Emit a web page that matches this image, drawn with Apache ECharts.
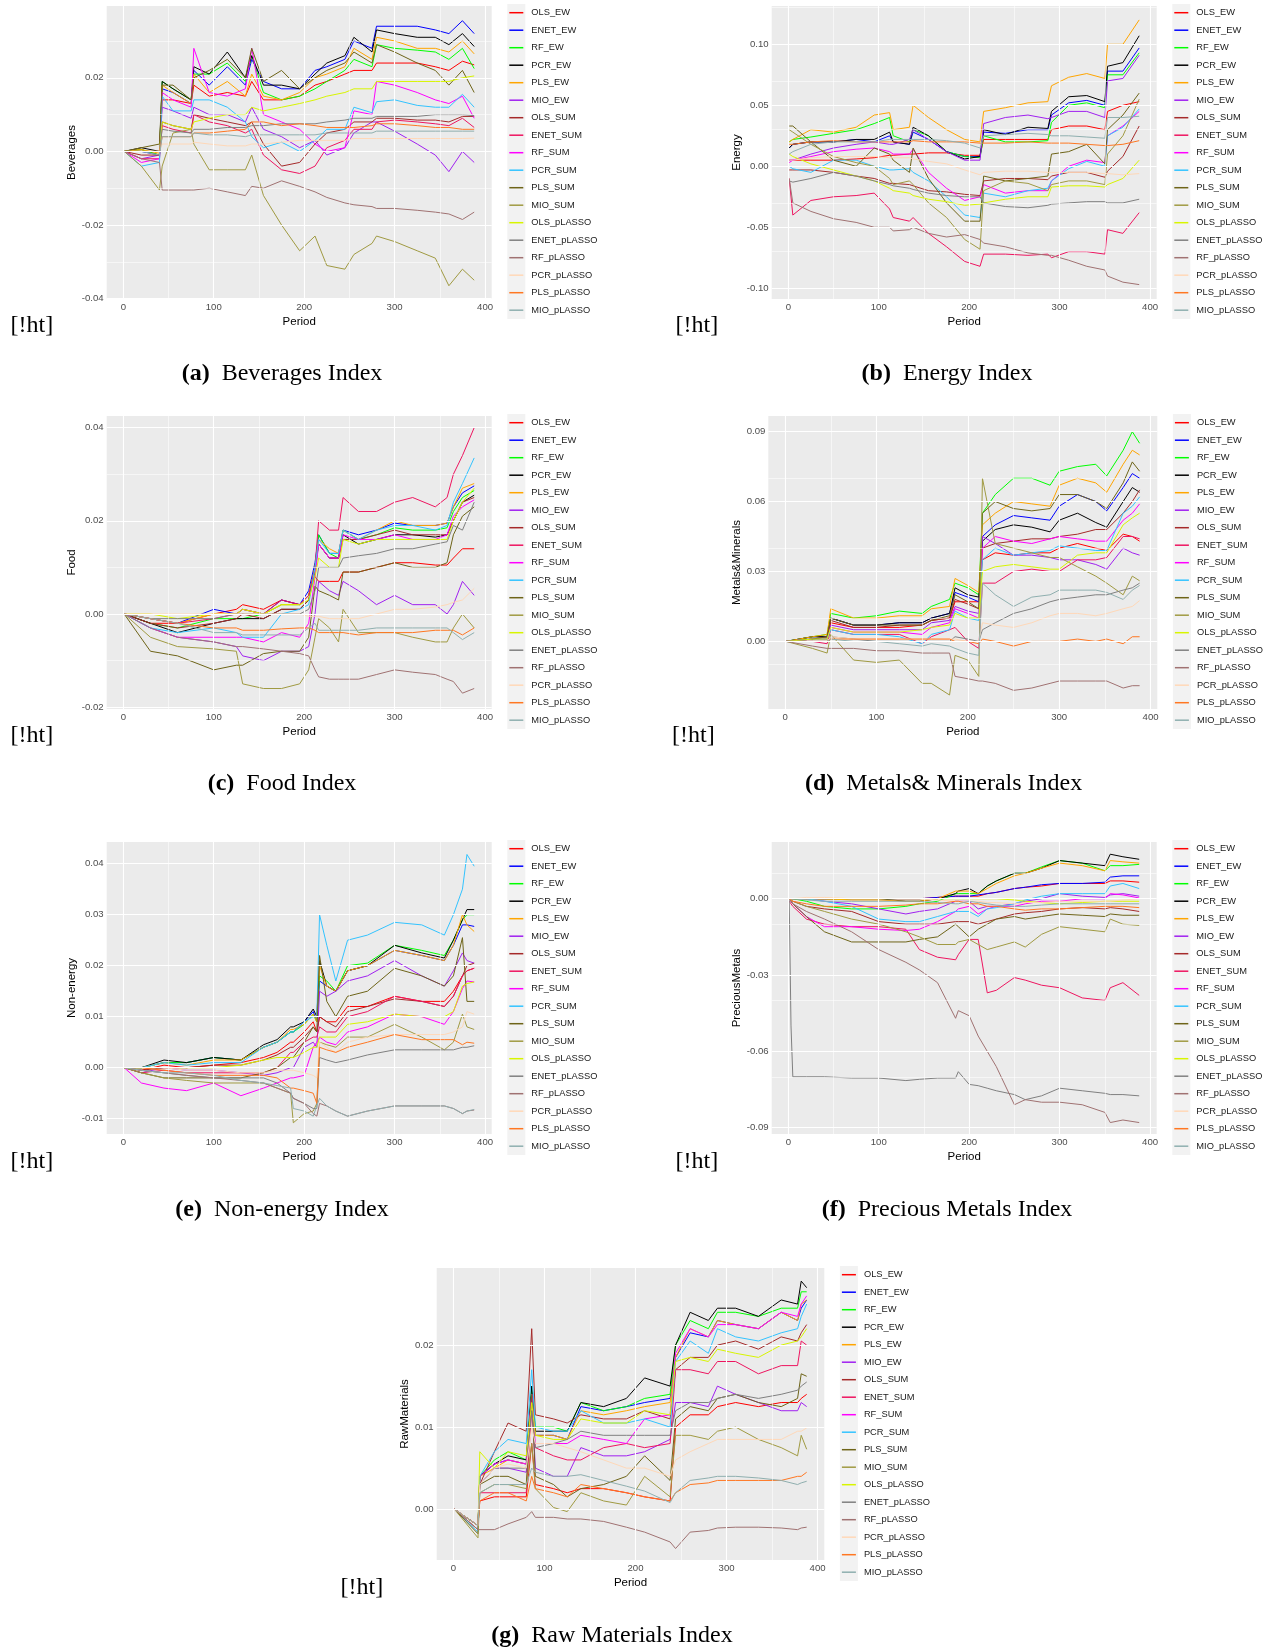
<!DOCTYPE html>
<html>
<head>
<meta charset="utf-8">
<title>Index forecast comparison</title>
<script src="https://cdn.jsdelivr.net/npm/echarts@6/dist/echarts.min.js"></script>
<style>
  html, body { margin: 0; padding: 0; background: #fff; }
  #chart { width: 1273px; height: 1650px; }
</style>
</head>
<body>
<div id="chart"></div>
<script>
// legend order = drawing order
var models = ['OLS_EW', 'ENET_EW', 'RF_EW', 'PCR_EW', 'PLS_EW', 'MIO_EW', 'OLS_SUM', 'ENET_SUM', 'RF_SUM', 'PCR_SUM', 'PLS_SUM', 'MIO_SUM', 'OLS_pLASSO', 'ENET_pLASSO', 'RF_pLASSO', 'PCR_pLASSO', 'PLS_pLASSO', 'MIO_pLASSO'];
var modelColors = ['#ff0000', '#0000ff', '#00ff00', '#000000', '#ffa500', '#a020f0', '#a52a2a', '#ee1560', '#ff00ff', '#33c3ff', '#6e6418', '#a09a42', '#d8f500', '#808080', '#a07272', '#ffd8b8', '#ff7722', '#8fafaf'];

var periodTicks = [0, 100, 200, 300, 400];
var periodMinor = [50, 150, 250, 350];

// (a) Beverages
var bevTicks = [-0.04, -0.02, 0, 0.02];
var bevMinor = [-0.03, -0.01, 0.01, 0.03];
var bevPeriod = [1, 20, 40, 43, 55, 75, 78, 95, 115, 135, 142, 155, 175, 195, 212, 225, 245, 255, 275, 280, 300, 325, 345, 360, 375, 388];
var bevValues = [
  [0, 0.0005, -0.001, 0.014, 0.014, 0.013, 0.018, 0.015, 0.016, 0.015, 0.019, 0.014, 0.014, 0.015, 0.018, 0.019, 0.021, 0.022, 0.022, 0.024, 0.024, 0.024, 0.023, 0.022, 0.0245, 0.0235],
  [0, 0, -0.001, 0.017, 0.016, 0.013, 0.022, 0.018, 0.023, 0.018, 0.025, 0.019, 0.017, 0.017, 0.022, 0.023, 0.025, 0.03, 0.028, 0.034, 0.034, 0.034, 0.033, 0.032, 0.0355, 0.032],
  [0, 0.0005, -0.001, 0.019, 0.017, 0.014, 0.021, 0.021, 0.024, 0.019, 0.026, 0.016, 0.014, 0.015, 0.017, 0.019, 0.022, 0.025, 0.023, 0.029, 0.028, 0.0275, 0.027, 0.025, 0.028, 0.0225],
  [0, 0.001, 0, 0.019, 0.017, 0.014, 0.023, 0.021, 0.027, 0.02, 0.026, 0.018, 0.018, 0.017, 0.021, 0.024, 0.026, 0.031, 0.027, 0.033, 0.032, 0.031, 0.031, 0.029, 0.032, 0.0285],
  [0, 0.0005, -0.0005, 0.018, 0.016, 0.013, 0.021, 0.016, 0.019, 0.015, 0.021, 0.015, 0.014, 0.016, 0.02, 0.021, 0.023, 0.028, 0.025, 0.031, 0.03, 0.028, 0.028, 0.027, 0.03, 0.0265],
  [0, -0.002, -0.001, 0.012, 0.011, 0.009, 0.012, 0.01, 0.01, 0.008, 0.012, 0.006, 0.004, 0.001, 0.003, -0.001, 0.001, 0.005, 0.008, 0.008, 0.0055, 0.002, -0.001, -0.0055, 0, -0.003],
  [0, -0.001, -0.001, 0.008, 0.007, 0.006, 0.01, 0.009, 0.008, 0.007, 0.008, 0.002, -0.004, -0.003, 0.002, 0.005, 0.006, 0.008, 0.008, 0.009, 0.009, 0.0085, 0.0085, 0.008, 0.0095, 0.0095],
  [0, -0.002, -0.002, 0.007, 0.006, 0.005, 0.01, 0.008, 0.007, 0.005, 0.006, -0.001, -0.005, -0.006, -0.004, 0.001, 0.003, 0.006, 0.006, 0.008, 0.0085, 0.008, 0.0075, 0.007, 0.009, 0.0065],
  [0, -0.003, -0.002, 0.016, 0.014, 0.012, 0.028, 0.016, 0.015, 0.017, 0.028, 0.01, 0.008, 0.006, 0.002, 0, 0.001, 0.011, 0.01, 0.019, 0.018, 0.016, 0.014, 0.013, 0.015, 0.009],
  [0, -0.004, -0.003, 0.015, 0.011, 0.011, 0.014, 0.014, 0.012, 0.008, 0.004, 0.001, 0.0025, 0, 0.003, 0.006, 0.006, 0.012, 0.0105, 0.0135, 0.014, 0.0125, 0.012, 0.012, 0.0155, 0.012],
  [0, 0.001, 0.002, 0.018, 0.018, 0.014, 0.02, 0.022, 0.025, 0.02, 0.028, 0.019, 0.022, 0.017, 0.02, 0.022, 0.024, 0.027, 0.024, 0.029, 0.027, 0.024, 0.022, 0.018, 0.022, 0.016],
  [0, -0.004, -0.0105, -0.004, 0.005, 0.006, 0.002, -0.005, -0.005, -0.005, -0.001, -0.012, -0.02, -0.027, -0.023, -0.031, -0.032, -0.028, -0.025, -0.023, -0.0245, -0.027, -0.029, -0.0365, -0.032, -0.035],
  [0, 0, 0, 0.008, 0.007, 0.006, 0.008, 0.009, 0.01, 0.01, 0.012, 0.011, 0.012, 0.013, 0.014, 0.015, 0.016, 0.017, 0.017, 0.019, 0.019, 0.019, 0.019, 0.019, 0.02, 0.0205],
  [0, 0, 0, 0.006, 0.0055, 0.005, 0.006, 0.006, 0.0065, 0.0065, 0.007, 0.007, 0.0075, 0.0075, 0.0075, 0.008, 0.0085, 0.009, 0.009, 0.0095, 0.0095, 0.0095, 0.01, 0.01, 0.01, 0.0097],
  [0, -0.002, -0.003, -0.0105, -0.0105, -0.0105, -0.0105, -0.01, -0.011, -0.012, -0.0095, -0.01, -0.008, -0.0095, -0.011, -0.0125, -0.014, -0.0145, -0.015, -0.0155, -0.0155, -0.016, -0.0165, -0.017, -0.0185, -0.0165],
  [0, 0, 0, 0.002, 0.002, 0.002, 0.0025, 0.002, 0.0015, 0.0015, 0.002, 0.002, 0.0025, 0.003, 0.003, 0.003, 0.003, 0.0035, 0.0035, 0.0035, 0.0035, 0.0035, 0.0035, 0.0035, 0.0035, 0.0036],
  [0, 0, 0, 0.004, 0.004, 0.004, 0.005, 0.005, 0.0055, 0.006, 0.008, 0.008, 0.007, 0.0075, 0.007, 0.0065, 0.0065, 0.0065, 0.007, 0.0075, 0.0075, 0.007, 0.0065, 0.0065, 0.006, 0.006],
  [0, 0, -0.001, 0.004, 0.004, 0.004, 0.005, 0.0045, 0.0045, 0.004, 0.0045, 0.0045, 0.0045, 0.0045, 0.0045, 0.005, 0.005, 0.005, 0.005, 0.0055, 0.0055, 0.0055, 0.0055, 0.0055, 0.0055, 0.0055]
];

// (b) Energy
var enTicks = [-0.1, -0.05, 0, 0.05, 0.1];
var enMinor = [-0.075, -0.025, 0.025, 0.075, 0.125];
var enPeriod = [1, 5, 25, 50, 75, 95, 112, 116, 134, 138, 155, 175, 195, 212, 216, 240, 265, 287, 291, 310, 330, 350, 353, 370, 388];
var enValues = [
  [0.005, 0.005, 0.005, 0.005, 0.006, 0.007, 0.009, 0.009, 0.01, 0.01, 0.011, 0.011, 0.009, 0.009, 0.022, 0.022, 0.022, 0.022, 0.03, 0.033, 0.033, 0.03, 0.045, 0.05, 0.053],
  [0.015, 0.018, 0.02, 0.02, 0.022, 0.02, 0.025, 0.02, 0.018, 0.028, 0.022, 0.012, 0.008, 0.008, 0.028, 0.027, 0.03, 0.03, 0.042, 0.052, 0.054, 0.05, 0.078, 0.078, 0.097],
  [0.02, 0.022, 0.024, 0.027, 0.03, 0.035, 0.04, 0.025, 0.02, 0.03, 0.025, 0.012, 0.008, 0.007, 0.025, 0.02, 0.02, 0.021, 0.036, 0.05, 0.052, 0.048, 0.075, 0.075, 0.093],
  [0.015, 0.018, 0.02, 0.02, 0.022, 0.022, 0.028, 0.02, 0.018, 0.032, 0.025, 0.012, 0.006, 0.008, 0.03, 0.026, 0.032, 0.031, 0.045, 0.057, 0.058, 0.053, 0.082, 0.085, 0.107],
  [0.02, 0.022, 0.03, 0.028, 0.032, 0.042, 0.044, 0.03, 0.032, 0.05, 0.04, 0.03, 0.022, 0.02, 0.045, 0.048, 0.052, 0.053, 0.066, 0.073, 0.076, 0.072, 0.1, 0.1, 0.12],
  [0.005, 0.005, 0.01, 0.015, 0.018, 0.02, 0.018, 0.018, 0.022, 0.03, 0.022, 0.012, 0.005, 0.005, 0.035, 0.04, 0.042, 0.039, 0.04, 0.045, 0.045, 0.04, 0.07, 0.072, 0.091],
  [-0.003, -0.003, -0.003, -0.005, -0.008, -0.01, -0.014, -0.014, -0.015, -0.016, -0.02, -0.021, -0.023, -0.024, -0.012, -0.01, -0.01, -0.011, -0.008, -0.005, -0.005, -0.009, -0.004, 0.008, 0.033],
  [-0.01, -0.04, -0.028, -0.025, -0.024, -0.022, -0.035, -0.042, -0.045, -0.042, -0.055, -0.066, -0.078, -0.082, -0.072, -0.072, -0.073, -0.072, -0.075, -0.07, -0.07, -0.072, -0.052, -0.055, -0.038],
  [0.003, 0.005, 0.008, 0.012, 0.014, 0.015, 0.012, 0.01, 0.01, 0.014, -0.005, -0.018, -0.028, -0.025, -0.015, -0.022, -0.02, -0.02, -0.012, 0, 0.005, 0.003, 0.025, 0.033, 0.045],
  [0, -0.002, -0.005, 0.005, 0.005, 0, -0.003, -0.003, -0.002, -0.005, -0.012, -0.025, -0.04, -0.042, -0.022, -0.025, -0.02, -0.018, -0.012, -0.002, 0.004, 0, 0.025, 0.032, 0.047],
  [0.033, 0.033, 0.02, 0.005, 0, 0.015, 0.01, 0.005, -0.005, 0.015, -0.01, -0.03, -0.045, -0.045, -0.008, -0.012, -0.01, -0.008, 0.01, 0.012, 0.018, 0.002, 0.03, 0.042, 0.06],
  [0.03, 0.028, 0.018, 0.008, 0.003, 0, -0.01, -0.015, -0.012, -0.015, -0.03, -0.042, -0.06, -0.068, -0.02, -0.012, -0.014, -0.02, -0.015, -0.012, -0.012, -0.015, 0.01, 0.025, 0.055],
  [0.01, 0.008, 0.002, -0.003, -0.008, -0.012, -0.018, -0.02, -0.022, -0.024, -0.027, -0.029, -0.032, -0.031, -0.03, -0.027, -0.025, -0.025, -0.017, -0.016, -0.016, -0.017, -0.015, -0.01, 0.005],
  [-0.012, -0.013, -0.01, -0.005, -0.008, -0.012, -0.015, -0.016, -0.018, -0.019, -0.022, -0.024, -0.025, -0.025, -0.03, -0.033, -0.034, -0.032, -0.031, -0.03, -0.029, -0.029, -0.03, -0.03, -0.027],
  [-0.01, -0.03, -0.037, -0.043, -0.046, -0.05, -0.05, -0.053, -0.052, -0.05, -0.055, -0.058, -0.056, -0.06, -0.063, -0.066, -0.071, -0.073, -0.073, -0.077, -0.082, -0.085, -0.09, -0.095, -0.097],
  [0.005, 0.005, 0.007, 0.008, 0.008, 0.008, 0.007, 0.007, 0.007, 0.006, 0.004, 0.002, -0.003, -0.007, -0.005, -0.004, -0.004, -0.005, -0.005, -0.005, -0.005, -0.006, -0.006, -0.007, -0.006],
  [0.018, 0.018, 0.02, 0.021, 0.02, 0.02, 0.02, 0.02, 0.02, 0.021, 0.02, 0.02, 0.02, 0.019, 0.019, 0.019, 0.02, 0.019, 0.019, 0.019, 0.018, 0.017, 0.017, 0.018, 0.021],
  [0.01, 0.012, 0.018, 0.02, 0.02, 0.02, 0.022, 0.022, 0.022, 0.022, 0.022, 0.021, 0.019, 0.015, 0.025, 0.026, 0.027, 0.026, 0.025, 0.025, 0.024, 0.023, 0.04, 0.04, 0.041]
];

// (c) Food
var foodTicks = [-0.02, 0, 0.02, 0.04];
var foodMinor = [-0.01, 0.01, 0.03];
var foodPeriod = [1, 30, 60, 100, 125, 132, 155, 175, 195, 205, 212, 216, 228, 238, 243, 260, 280, 300, 320, 345, 358, 365, 375, 388];
var foodValues = [
  [0, -0.002, -0.002, 0, 0.001, 0.002, 0.001, 0.003, 0.002, 0.004, 0.008, 0.007, 0.007, 0.007, 0.009, 0.009, 0.01, 0.011, 0.011, 0.0105, 0.0105, 0.012, 0.014, 0.014],
  [0, -0.001, -0.002, 0.001, 0, 0.001, 0, 0.003, 0.002, 0.005, 0.011, 0.017, 0.013, 0.013, 0.018, 0.017, 0.018, 0.0195, 0.019, 0.019, 0.0195, 0.023, 0.026, 0.0275],
  [0, -0.002, -0.003, -0.001, -0.001, -0.001, 0, 0.002, 0.002, 0.004, 0.01, 0.017, 0.013, 0.012, 0.018, 0.016, 0.017, 0.0185, 0.018, 0.018, 0.0185, 0.022, 0.025, 0.0265],
  [0, -0.002, -0.004, -0.002, -0.001, -0.001, -0.001, 0.001, 0.001, 0.003, 0.01, 0.015, 0.012, 0.012, 0.017, 0.015, 0.016, 0.017, 0.017, 0.0165, 0.017, 0.02, 0.024, 0.0255],
  [0, -0.001, -0.002, 0, 0, 0.001, 0, 0.002, 0.002, 0.004, 0.01, 0.016, 0.014, 0.013, 0.018, 0.016, 0.018, 0.02, 0.019, 0.019, 0.0195, 0.023, 0.027, 0.028],
  [0, -0.003, -0.005, -0.006, -0.007, -0.009, -0.01, -0.008, -0.008, -0.007, 0, 0.007, 0.005, 0.004, 0.007, 0.005, 0.002, 0.004, 0.002, 0.002, 0, 0.002, 0.007, 0.004],
  [0, -0.002, -0.003, -0.002, -0.001, 0, -0.001, 0.001, 0.001, 0.003, 0.009, 0.015, 0.012, 0.012, 0.016, 0.016, 0.017, 0.018, 0.017, 0.017, 0.017, 0.02, 0.024, 0.025],
  [0, -0.001, -0.002, -0.001, 0, 0.001, 0, 0.003, 0.002, 0.004, 0.01, 0.02, 0.018, 0.018, 0.025, 0.022, 0.022, 0.024, 0.025, 0.023, 0.025, 0.03, 0.034, 0.04],
  [0, -0.003, -0.005, -0.005, -0.005, -0.005, -0.006, -0.004, -0.005, -0.002, 0.008, 0.015, 0.012, 0.012, 0.017, 0.016, 0.016, 0.017, 0.016, 0.016, 0.017, 0.021, 0.023, 0.0245],
  [0, -0.003, -0.004, -0.003, -0.004, -0.005, -0.005, 0, 0.001, 0.002, 0.01, 0.016, 0.013, 0.013, 0.018, 0.016, 0.018, 0.019, 0.019, 0.018, 0.019, 0.024, 0.028, 0.0335],
  [0, -0.008, -0.009, -0.012, -0.011, -0.011, -0.0085, -0.008, -0.008, -0.005, 0.006, 0.005, 0.004, 0.003, 0.009, 0.009, 0.01, 0.011, 0.01, 0.01, 0.011, 0.017, 0.021, 0.023],
  [0, -0.005, -0.007, -0.0075, -0.008, -0.015, -0.016, -0.016, -0.015, -0.012, -0.005, -0.001, -0.003, -0.006, 0.001, -0.004, -0.004, -0.004, -0.005, -0.006, -0.006, -0.003, 0, -0.003],
  [0, 0, -0.001, 0, 0, 0.001, 0, 0.002, 0.002, 0.003, 0.008, 0.012, 0.01, 0.01, 0.016, 0.015, 0.016, 0.016, 0.016, 0.016, 0.016, 0.02, 0.024, 0.027],
  [0, -0.001, -0.001, -0.001, 0, 0, 0, 0, 0, 0.001, 0.005, 0.01, 0.01, 0.01, 0.012, 0.0125, 0.013, 0.014, 0.014, 0.015, 0.0155, 0.019, 0.018, 0.024],
  [0, -0.003, -0.005, -0.006, -0.007, -0.007, -0.0075, -0.008, -0.0085, -0.009, -0.012, -0.0135, -0.014, -0.014, -0.014, -0.014, -0.013, -0.012, -0.0125, -0.013, -0.014, -0.0145, -0.017, -0.016],
  [0, 0, 0, 0, 0, 0, 0, 0, 0, -0.0005, -0.0005, -0.0005, -0.001, -0.001, -0.001, -0.001, 0, 0.001, 0.001, 0.0015, 0.002, 0.0025, 0.003, 0.0055],
  [0, -0.001, -0.002, -0.003, -0.003, -0.0035, -0.0035, -0.0032, -0.003, -0.003, -0.0035, -0.004, -0.004, -0.004, -0.004, -0.0045, -0.004, -0.004, -0.004, -0.0035, -0.0035, -0.0035, -0.0045, -0.003],
  [0, -0.001, -0.002, -0.004, -0.004, -0.0045, -0.0045, -0.0045, -0.0045, -0.003, -0.002, -0.0035, -0.0035, -0.0035, -0.0035, -0.0035, -0.003, -0.003, -0.003, -0.003, -0.003, -0.004, -0.0055, -0.004]
];

// (d) Metals & Minerals
var metTicks = [0, 0.03, 0.06, 0.09];
var metMinor = [-0.015, 0.015, 0.045, 0.075];
var metPeriod = [1, 30, 46, 50, 75, 100, 125, 150, 160, 180, 186, 200, 212, 216, 230, 250, 270, 290, 300, 320, 340, 352, 370, 380, 388];
var metValues = [
  [0, 0.001, 0.001, 0.008, 0.006, 0.006, 0.006, 0.007, 0.009, 0.01, 0.017, 0.017, 0.017, 0.035, 0.038, 0.037, 0.038, 0.038, 0.04, 0.042, 0.04, 0.039, 0.046, 0.045, 0.043],
  [0, 0.002, 0.002, 0.01, 0.007, 0.007, 0.008, 0.008, 0.01, 0.012, 0.021, 0.019, 0.017, 0.045, 0.05, 0.054, 0.053, 0.052, 0.058, 0.063, 0.06, 0.056, 0.066, 0.072, 0.07],
  [0, 0.002, 0.003, 0.012, 0.01, 0.011, 0.013, 0.012, 0.015, 0.018, 0.025, 0.023, 0.02, 0.055, 0.063, 0.07, 0.07, 0.067, 0.073, 0.075, 0.076, 0.071, 0.082, 0.09, 0.085],
  [0, 0.002, 0.002, 0.01, 0.007, 0.007, 0.008, 0.008, 0.01, 0.012, 0.023, 0.02, 0.019, 0.043, 0.048, 0.05, 0.049, 0.047, 0.052, 0.055, 0.051, 0.049, 0.06, 0.066, 0.064],
  [0, 0.002, 0.003, 0.014, 0.01, 0.01, 0.011, 0.011, 0.014, 0.015, 0.027, 0.024, 0.021, 0.05, 0.055, 0.06, 0.059, 0.058, 0.067, 0.07, 0.068, 0.064, 0.076, 0.082, 0.08],
  [0, 0.001, 0.001, 0.007, 0.005, 0.005, 0.005, 0.005, 0.008, 0.009, 0.015, 0.013, 0.012, 0.045, 0.042, 0.037, 0.037, 0.036, 0.035, 0.035, 0.033, 0.031, 0.04, 0.038, 0.037],
  [0, 0.001, 0.002, 0.009, 0.006, 0.006, 0.007, 0.007, 0.009, 0.01, 0.018, 0.016, 0.014, 0.04, 0.042, 0.043, 0.044, 0.044, 0.045, 0.046, 0.048, 0.048, 0.055, 0.06, 0.065],
  [0, 0, -0.001, 0.005, 0.003, 0.003, 0.003, -0.001, 0.002, 0.005, 0.006, 0, -0.003, 0.025, 0.025, 0.03, 0.031, 0.03, 0.03, 0.035, 0.035, 0.036, 0.045, 0.045, 0.044],
  [0, 0.001, 0.001, 0.006, 0.004, 0.004, 0.004, 0.003, 0.006, 0.008, 0.014, 0.012, 0.01, 0.04, 0.045, 0.043, 0.042, 0.044, 0.045, 0.044, 0.043, 0.043, 0.052, 0.055, 0.059],
  [0, 0.001, 0.001, 0.005, 0.003, 0.003, 0.002, -0.001, 0.003, 0.005, 0.013, 0.01, 0.009, 0.035, 0.04, 0.037, 0.038, 0.039, 0.041, 0.04, 0.039, 0.039, 0.055, 0.058, 0.062],
  [0, 0.001, 0.002, 0.01, 0.007, 0.007, 0.007, 0.007, 0.009, 0.011, 0.02, 0.017, 0.014, 0.055, 0.06, 0.057, 0.056, 0.057, 0.063, 0.063, 0.06, 0.057, 0.068, 0.077, 0.073],
  [0, -0.003, -0.005, 0.003, -0.008, -0.009, -0.008, -0.018, -0.018, -0.023, -0.006, -0.008, -0.015, 0.07, 0.042, 0.04, 0.038, 0.036, 0.036, 0.032, 0.028, 0.025, 0.02, 0.028, 0.026],
  [0, 0.001, 0.001, 0.006, 0.004, 0.004, 0.004, 0.005, 0.006, 0.007, 0.012, 0.01, 0.01, 0.03, 0.032, 0.033, 0.032, 0.031, 0.031, 0.037, 0.038, 0.038, 0.05, 0.053, 0.055],
  [0, 0, 0, 0.002, 0.001, 0, 0, 0, 0, 0, 0.002, 0.001, 0, 0.005, 0.008, 0.012, 0.014, 0.017, 0.018, 0.019, 0.02, 0.02, 0.022, 0.023, 0.025],
  [0, -0.002, -0.003, -0.003, -0.003, -0.004, -0.004, -0.005, -0.005, -0.005, -0.015, -0.016, -0.017, -0.017, -0.018, -0.021, -0.02, -0.018, -0.017, -0.017, -0.017, -0.017, -0.02, -0.019, -0.019],
  [0, 0, 0, 0.002, 0.001, 0.001, 0.001, 0.001, 0.001, 0.001, 0.001, 0, 0, 0.008, 0.007, 0.006, 0.008, 0.011, 0.012, 0.012, 0.011, 0.012, 0.014, 0.015, 0.0175],
  [0, 0, 0, 0.001, 0.001, 0.001, 0.001, 0.001, 0.001, 0.001, 0, 0, -0.001, 0.001, 0, -0.002, 0, 0, 0, 0.001, 0, 0.001, -0.001, 0.002, 0.002],
  [0, 0, 0, 0.001, 0, 0, -0.001, -0.002, -0.001, -0.002, -0.003, -0.005, -0.006, 0.025, 0.02, 0.015, 0.019, 0.02, 0.022, 0.022, 0.022, 0.021, 0.018, 0.022, 0.024]
];

// (e) Non-energy
var nonTicks = [-0.01, 0, 0.01, 0.02, 0.03, 0.04];
var nonMinor = [-0.005, 0.005, 0.015, 0.025, 0.035];
var nonPeriod = [1, 20, 45, 70, 100, 130, 155, 170, 185, 188, 200, 210, 214, 217, 225, 235, 248, 270, 300, 330, 355, 365, 375, 380, 388];
var nonValues = [
  [0, -0.0005, 0.0005, 0, 0.0005, 0.001, 0.002, 0.003, 0.005, 0.005, 0.007, 0.009, 0.007, 0.01, 0.009, 0.009, 0.012, 0.012, 0.014, 0.013, 0.013, 0.015, 0.018, 0.019, 0.0195],
  [0, 0, 0.001, 0.001, 0.002, 0.0015, 0.004, 0.005, 0.007, 0.007, 0.009, 0.011, 0.009, 0.017, 0.016, 0.015, 0.019, 0.02, 0.023, 0.022, 0.021, 0.024, 0.028, 0.028, 0.0277],
  [0, 0, 0.001, 0.001, 0.002, 0.0015, 0.004, 0.005, 0.007, 0.007, 0.0085, 0.0105, 0.009, 0.018, 0.017, 0.015, 0.02, 0.0205, 0.024, 0.023, 0.022, 0.025, 0.029, 0.03, 0.03],
  [0, 0, 0.0015, 0.001, 0.002, 0.0015, 0.0045, 0.0055, 0.008, 0.008, 0.009, 0.0115, 0.01, 0.021, 0.016, 0.015, 0.019, 0.02, 0.024, 0.0225, 0.0215, 0.025, 0.029, 0.031, 0.031],
  [0, 0, 0.001, 0.0005, 0.0015, 0.0015, 0.004, 0.005, 0.0075, 0.0075, 0.0085, 0.0105, 0.009, 0.02, 0.016, 0.015, 0.019, 0.02, 0.023, 0.022, 0.021, 0.024, 0.03, 0.028, 0.0267],
  [0, -0.001, 0, -0.0005, -0.0005, -0.001, -0.0015, -0.001, 0, 0, 0.004, 0.005, 0.004, 0.015, 0.014, 0.015, 0.017, 0.018, 0.021, 0.018, 0.016, 0.019, 0.0225, 0.021, 0.0205],
  [0, -0.0005, 0, 0, 0.0005, 0.0005, 0.0015, 0.0025, 0.004, 0.004, 0.006, 0.008, 0.007, 0.01, 0.009, 0.008, 0.011, 0.012, 0.0135, 0.013, 0.012, 0.014, 0.018, 0.02, 0.0205],
  [0, -0.001, -0.0005, -0.001, -0.001, -0.001, -0.001, 0, 0.003, 0.003, 0.005, 0.006, 0.006, 0.008, 0.007, 0.007, 0.01, 0.011, 0.014, 0.013, 0.012, 0.014, 0.018, 0.019, 0.0195],
  [0, -0.003, -0.004, -0.0045, -0.003, -0.0055, -0.004, -0.003, -0.002, -0.002, -0.0015, 0.004, 0.005, 0.006, 0.005, 0.0045, 0.007, 0.008, 0.0105, 0.01, 0.0085, 0.011, 0.0155, 0.017, 0.0168],
  [0, 0, 0.001, 0.0005, 0.001, 0.001, 0.004, 0.005, 0.007, 0.007, 0.009, 0.01, 0.01, 0.03, 0.024, 0.017, 0.025, 0.026, 0.0285, 0.028, 0.026, 0.03, 0.035, 0.0418, 0.0395],
  [0, -0.001, -0.002, -0.002, -0.002, -0.002, -0.001, 0, 0.002, 0.002, 0.005, 0.008, 0.007, 0.022, 0.013, 0.01, 0.014, 0.015, 0.0195, 0.018, 0.016, 0.018, 0.0255, 0.013, 0.013],
  [0, -0.001, -0.002, -0.0025, -0.003, -0.003, -0.003, -0.004, -0.005, -0.0108, -0.009, -0.0085, -0.007, 0.005, 0.0045, 0.004, 0.006, 0.006, 0.0085, 0.006, 0.0035, 0.005, 0.0105, 0.008, 0.0075],
  [0, 0, 0, 0, 0, 0.0005, 0.0015, 0.002, 0.002, 0.002, 0.003, 0.004, 0.004, 0.006, 0.006, 0.006, 0.0085, 0.009, 0.0105, 0.01, 0.01, 0.011, 0.016, 0.0165, 0.0168],
  [0, -0.0005, -0.001, -0.0015, -0.002, -0.002, -0.002, -0.003, -0.005, -0.006, -0.007, -0.008, -0.008, 0.002, 0.0015, 0.001, 0.0015, 0.0025, 0.0035, 0.0035, 0.0035, 0.0035, 0.004, 0.004, 0.0043],
  [0, -0.0005, -0.001, -0.0015, -0.002, -0.0025, -0.003, -0.004, -0.005, -0.006, -0.007, -0.009, -0.0095, -0.007, -0.0075, -0.0085, -0.0095, -0.0085, -0.0075, -0.0075, -0.0075, -0.008, -0.009, -0.0085, -0.0083],
  [0, 0, 0, -0.0005, -0.0005, -0.001, -0.001, -0.0005, -0.0005, -0.0005, -0.001, -0.0015, -0.002, 0.005, 0.004, 0.003, 0.005, 0.006, 0.0065, 0.0065, 0.0065, 0.007, 0.008, 0.011, 0.0105],
  [0, 0, -0.0005, -0.001, -0.0015, -0.0015, -0.0015, -0.002, -0.004, -0.004, -0.0045, -0.005, -0.007, 0.004, 0.0035, 0.003, 0.004, 0.005, 0.0065, 0.0055, 0.0055, 0.0055, 0.0045, 0.005, 0.0048],
  [0, -0.0005, -0.001, -0.001, -0.0015, -0.0025, -0.003, -0.0035, -0.004, -0.008, -0.0085, -0.0095, -0.0075, -0.006, -0.0075, -0.0085, -0.0095, -0.0085, -0.0075, -0.0075, -0.0075, -0.008, -0.009, -0.0085, -0.0082]
];

// (f) Precious Metals
var precTicks = [-0.09, -0.06, -0.03, 0];
var precMinor = [-0.075, -0.045, -0.015, 0.015];
var precPeriod = [1, 3, 5, 20, 40, 70, 100, 130, 145, 165, 185, 188, 200, 210, 220, 230, 250, 262, 280, 300, 325, 350, 356, 370, 388];
var precValues = [
  [0, 0, 0, 0, 0, 0, 0, 0, 0, 0.0005, 0.001, 0.001, 0.001, 0.001, 0.002, 0.0025, 0.004, 0.0045, 0.005, 0.006, 0.006, 0.006, 0.007, 0.007, 0.0065],
  [0, 0, 0, 0, 0, 0, 0, 0, 0, 0.0005, 0.001, 0.001, 0.001, 0.0015, 0.002, 0.0025, 0.004, 0.0045, 0.0055, 0.006, 0.006, 0.0065, 0.0085, 0.009, 0.009],
  [0, 0, 0, -0.001, -0.003, -0.004, -0.004, -0.003, -0.002, -0.001, 0.002, 0.002, 0.002, 0.002, 0.005, 0.007, 0.01, 0.01, 0.0125, 0.015, 0.014, 0.011, 0.013, 0.013, 0.0135],
  [0, 0, 0, 0, 0, 0, 0, -0.001, -0.001, 0, 0.002, 0.003, 0.004, 0.002, 0.005, 0.007, 0.01, 0.01, 0.012, 0.015, 0.014, 0.013, 0.0175, 0.0165, 0.0155],
  [0, 0, 0, 0, 0, -0.0005, -0.0005, -0.001, -0.001, 0, 0.003, 0.003, 0.003, 0.002, 0.004, 0.006, 0.009, 0.01, 0.012, 0.014, 0.013, 0.011, 0.015, 0.0145, 0.014],
  [0, 0, 0, 0, -0.001, -0.002, -0.004, -0.006, -0.005, -0.004, -0.001, -0.001, -0.001, -0.004, -0.003, -0.003, -0.002, -0.001, 0, 0.002, 0.001, 0.0005, 0.0015, 0.002, 0.001],
  [0, 0, -0.001, -0.003, -0.004, -0.005, -0.009, -0.01, -0.01, -0.01, -0.009, -0.009, -0.009, -0.01, -0.009, -0.008, -0.006, -0.0055, -0.005, -0.004, -0.0035, -0.004, -0.0035, -0.004, -0.005],
  [-0.001, -0.002, -0.003, -0.008, -0.01, -0.011, -0.011, -0.012, -0.02, -0.023, -0.024, -0.022, -0.016, -0.016, -0.037, -0.036, -0.031, -0.032, -0.034, -0.035, -0.039, -0.04, -0.035, -0.033, -0.038],
  [0, -0.001, -0.002, -0.007, -0.011, -0.011, -0.012, -0.0125, -0.012, -0.009, -0.005, -0.004, -0.003, -0.006, -0.004, -0.003, -0.003, -0.002, -0.001, -0.001, 0, 0, 0.002, 0.0015, 0.0003],
  [0, 0, 0, 0, -0.001, -0.003, -0.008, -0.009, -0.009, -0.007, -0.005, -0.005, -0.005, -0.007, -0.004, -0.0035, -0.002, -0.0005, 0.001, 0.002, 0.002, 0.002, 0.005, 0.006, 0.004],
  [0, -0.001, -0.002, -0.007, -0.013, -0.017, -0.017, -0.017, -0.016, -0.015, -0.01, -0.011, -0.015, -0.012, -0.01, -0.008, -0.007, -0.008, -0.007, -0.006, -0.0065, -0.007, -0.006, -0.0065, -0.0065],
  [0, 0, -0.001, -0.003, -0.005, -0.008, -0.01, -0.013, -0.015, -0.018, -0.018, -0.017, -0.016, -0.018, -0.02, -0.019, -0.017, -0.019, -0.014, -0.011, -0.012, -0.013, -0.008, -0.01, -0.0105],
  [0, 0, 0, 0, 0, 0, 0, 0, 0, 0, 0, 0, 0, 0, 0, 0, -0.0005, -0.001, -0.0015, -0.002, -0.0015, -0.001, -0.001, -0.001, -0.001],
  [0, -0.05, -0.07, -0.07, -0.07, -0.0705, -0.0705, -0.0715, -0.071, -0.0705, -0.0705, -0.068, -0.073, -0.0735, -0.0745, -0.0755, -0.077, -0.079, -0.0775, -0.0745, -0.0755, -0.0765, -0.077, -0.077, -0.0775],
  [0, -0.001, -0.002, -0.005, -0.008, -0.013, -0.02, -0.025, -0.028, -0.033, -0.047, -0.044, -0.046, -0.054, -0.06, -0.066, -0.081, -0.079, -0.08, -0.08, -0.081, -0.084, -0.088, -0.087, -0.088],
  [0, 0, 0, 0.0005, 0.0005, 0, 0, 0, 0, -0.0005, -0.001, -0.001, -0.001, -0.001, -0.0015, -0.0015, -0.002, -0.0015, -0.0015, -0.001, -0.001, -0.001, -0.001, -0.0005, 0],
  [0, 0, -0.001, -0.002, -0.003, -0.003, -0.003, -0.0025, -0.002, -0.002, -0.001, -0.001, -0.002, -0.002, -0.003, -0.003, -0.004, -0.0045, -0.004, -0.004, -0.0035, -0.003, -0.003, -0.003, -0.0035],
  [0, 0, 0, -0.0005, -0.001, -0.001, -0.001, -0.001, -0.001, -0.0015, -0.002, -0.002, -0.001, -0.0015, -0.002, -0.0025, -0.003, -0.003, -0.0025, -0.002, -0.002, -0.002, -0.002, -0.002, -0.002]
];

// (g) Raw Materials
var rawTicks = [0, 0.01, 0.02];
var rawMinor = [-0.005, 0.005, 0.015, 0.025];
var rawPeriod = [1, 27, 29, 45, 60, 80, 86, 90, 110, 125, 140, 165, 190, 210, 238, 244, 260, 280, 290, 310, 335, 360, 378, 382, 388];
var rawValues = [
  [0, -0.002, 0.001, 0.0015, 0.0015, 0.0015, 0.008, 0.003, 0.0025, 0.002, 0.0025, 0.0025, 0.002, 0.0015, 0.001, 0.01, 0.0115, 0.0115, 0.0125, 0.013, 0.0125, 0.013, 0.013, 0.0135, 0.014],
  [0, -0.002, 0.004, 0.0055, 0.006, 0.0055, 0.014, 0.009, 0.009, 0.0085, 0.0125, 0.012, 0.0125, 0.013, 0.0135, 0.0185, 0.0215, 0.021, 0.023, 0.0225, 0.022, 0.024, 0.023, 0.0245, 0.0255],
  [0, -0.002, 0.004, 0.006, 0.007, 0.006, 0.015, 0.01, 0.01, 0.0095, 0.013, 0.012, 0.0125, 0.0135, 0.014, 0.02, 0.023, 0.022, 0.024, 0.024, 0.0235, 0.0245, 0.0245, 0.0265, 0.0265],
  [0, -0.002, 0.004, 0.0055, 0.0065, 0.006, 0.015, 0.0095, 0.0095, 0.0095, 0.013, 0.0125, 0.0135, 0.016, 0.015, 0.02, 0.024, 0.023, 0.0245, 0.0245, 0.0235, 0.0255, 0.025, 0.0278, 0.027],
  [0, -0.002, 0.004, 0.005, 0.006, 0.0055, 0.014, 0.009, 0.009, 0.0085, 0.012, 0.0115, 0.012, 0.0125, 0.013, 0.0185, 0.022, 0.021, 0.023, 0.0225, 0.022, 0.024, 0.023, 0.025, 0.0255],
  [0, -0.002, 0.003, 0.005, 0.005, 0.0045, 0.014, 0.005, 0.004, 0.004, 0.0075, 0.0065, 0.0065, 0.007, 0.0085, 0.013, 0.013, 0.0125, 0.015, 0.014, 0.013, 0.012, 0.012, 0.013, 0.0125],
  [0, -0.0025, 0.003, 0.007, 0.0105, 0.0095, 0.022, 0.0115, 0.011, 0.0105, 0.0115, 0.011, 0.011, 0.012, 0.011, 0.017, 0.0185, 0.0185, 0.02, 0.0205, 0.0195, 0.021, 0.0205, 0.0215, 0.0225],
  [0, -0.002, 0.002, 0.002, 0.002, 0.002, 0.012, 0.0075, 0.0065, 0.006, 0.006, 0.0075, 0.008, 0.0075, 0.008, 0.017, 0.017, 0.0165, 0.018, 0.018, 0.0165, 0.0175, 0.0175, 0.0205, 0.02],
  [0, -0.002, 0.004, 0.0055, 0.006, 0.0055, 0.014, 0.008, 0.008, 0.008, 0.009, 0.0085, 0.008, 0.011, 0.0115, 0.019, 0.022, 0.021, 0.0225, 0.0225, 0.022, 0.024, 0.0235, 0.025, 0.026],
  [0, -0.0028, 0.004, 0.007, 0.0085, 0.008, 0.017, 0.01, 0.0095, 0.0095, 0.012, 0.0105, 0.0105, 0.011, 0.01, 0.018, 0.0205, 0.019, 0.022, 0.021, 0.0205, 0.0215, 0.022, 0.0235, 0.025],
  [0, -0.003, 0.003, 0.004, 0.004, 0.003, 0.014, 0.004, 0.003, 0.0015, 0.0025, 0.003, 0.004, 0.0065, 0.0035, 0.011, 0.0125, 0.012, 0.0135, 0.014, 0.013, 0.0125, 0.0135, 0.0165, 0.0162],
  [0, -0.0035, 0.002, 0.003, 0.003, 0.0025, 0.008, 0.0025, 0.0002, -0.0003, 0.002, 0.001, 0.0005, 0.004, 0.0015, 0.009, 0.009, 0.0085, 0.0095, 0.01, 0.0085, 0.0075, 0.0065, 0.009, 0.0073],
  [0, -0.002, 0.007, 0.005, 0.007, 0.0065, 0.013, 0.009, 0.0085, 0.0085, 0.011, 0.0105, 0.0105, 0.012, 0.0115, 0.018, 0.0185, 0.018, 0.0195, 0.019, 0.0185, 0.02, 0.0205, 0.021, 0.022],
  [0, -0.002, 0.003, 0.005, 0.005, 0.005, 0.012, 0.0075, 0.008, 0.0085, 0.0095, 0.009, 0.009, 0.009, 0.009, 0.012, 0.013, 0.013, 0.0135, 0.014, 0.0135, 0.014, 0.0145, 0.015, 0.0155],
  [0, -0.0025, -0.0027, -0.0025, -0.0018, -0.001, -0.0003, -0.001, -0.001, -0.0012, -0.0012, -0.0015, -0.0022, -0.0028, -0.004, -0.0048, -0.0028, -0.0026, -0.0023, -0.0022, -0.0022, -0.0023, -0.0025, -0.0023, -0.0022],
  [0, -0.002, 0.003, 0.005, 0.0055, 0.005, 0.01, 0.008, 0.008, 0.0075, 0.007, 0.006, 0.005, 0.005, 0.004, 0.006, 0.007, 0.008, 0.0085, 0.0085, 0.0085, 0.0085, 0.0095, 0.0095, 0.0099],
  [0, -0.002, 0.001, 0.002, 0.002, 0.001, 0.004, 0.0025, 0.002, 0.0015, 0.003, 0.0025, 0.002, 0.0015, 0.001, 0.002, 0.003, 0.0032, 0.0035, 0.0035, 0.0035, 0.0035, 0.004, 0.004, 0.0045],
  [0, -0.002, 0.002, 0.003, 0.003, 0.003, 0.005, 0.0045, 0.004, 0.004, 0.0042, 0.0035, 0.0028, 0.0022, 0.0008, 0.002, 0.0035, 0.0038, 0.004, 0.004, 0.0038, 0.0035, 0.003, 0.0032, 0.0034]
];

// layout of the seven sub-figures (pixels)
var panels = [
  { period: bevPeriod, values: bevValues, ticks: bevTicks, minor: bevMinor, yName: 'Beverages', yMin: -0.0401, yMax: 0.0395,
    left: 106.7, top: 6, width: 385, height: 293, nameGap: 29, tag: '(a)', caption: 'Beverages Index' },
  { period: enPeriod, values: enValues, ticks: enTicks, minor: enMinor, yName: 'Energy', yMin: -0.1088, yMax: 0.1314,
    left: 771.7, top: 6, width: 385, height: 293, nameGap: 29, tag: '(b)', caption: 'Energy Index' },
  { period: foodPeriod, values: foodValues, ticks: foodTicks, minor: foodMinor, yName: 'Food', yMin: -0.0204, yMax: 0.0425,
    left: 106.7, top: 416, width: 385, height: 293, nameGap: 29, tag: '(c)', caption: 'Food Index' },
  { period: metPeriod, values: metValues, ticks: metTicks, minor: metMinor, yName: 'Metals&Minerals', yMin: -0.029, yMax: 0.0967,
    left: 768.3, top: 416, width: 389, height: 293, nameGap: 25, tag: '(d)', caption: 'Metals& Minerals Index' },
  { period: nonPeriod, values: nonValues, ticks: nonTicks, minor: nonMinor, yName: 'Non-energy', yMin: -0.013, yMax: 0.04425,
    left: 106.7, top: 842, width: 385, height: 292, nameGap: 28, tag: '(e)', caption: 'Non-energy Index' },
  { period: precPeriod, values: precValues, ticks: precTicks, minor: precMinor, yName: 'PreciousMetals', yMin: -0.0925, yMax: 0.0223,
    left: 771.7, top: 842, width: 385, height: 292, nameGap: 28, tag: '(f)', caption: 'Precious Metals Index' },
  { period: rawPeriod, values: rawValues, ticks: rawTicks, minor: rawMinor, yName: 'RawMaterials', yMin: -0.0062, yMax: 0.0294,
    left: 436.7, top: 1268, width: 387.6, height: 292, nameGap: 25, tag: '(g)', caption: 'Raw Materials Index' }
];

var sans = 'Liberation Sans, Arial, sans-serif';
var serif = 'Liberation Serif, Times New Roman, serif';
var keyStep = 17.5;

var grids = [], xAxes = [], yAxes = [], legends = [], series = [], graphics = [];

panels.forEach(function (p, k) {
  grids.push({
    left: p.left, top: p.top, width: p.width, height: p.height,
    show: true, backgroundColor: '#ebebeb', borderWidth: 0,
    containLabel: false, outerBoundsMode: 'none'
  });

  xAxes.push({
    type: 'value', gridIndex: k, min: -18.35, max: 407.35,
    axisLine: { show: false },
    axisTick: { show: true, length: 4, lineStyle: { color: '#333', width: 1 }, customValues: periodTicks },
    axisLabel: { customValues: periodTicks, color: '#4d4d4d', fontSize: 9.6, fontFamily: sans, margin: 3 },
    splitLine: { show: false },
    name: 'Period', nameLocation: 'middle', nameGap: 17,
    nameTextStyle: { color: '#000', fontSize: 11.5, fontFamily: sans }
  });

  yAxes.push({
    type: 'value', gridIndex: k, min: p.yMin, max: p.yMax,
    axisLine: { show: false },
    axisTick: { show: true, length: 4, lineStyle: { color: '#333', width: 1 }, customValues: p.ticks },
    axisLabel: {
      customValues: p.ticks, color: '#4d4d4d', fontSize: 9.6, fontFamily: sans, margin: 3,
      formatter: function (v) { return v.toFixed(2); }
    },
    splitLine: { show: false },
    name: p.yName, nameLocation: 'middle', nameGap: p.nameGap,
    nameTextStyle: { color: '#000', fontSize: 11.5, fontFamily: sans }
  });

  // ggplot-style white major/minor grid lines
  var gridLines = [];
  p.minor.forEach(function (v) { gridLines.push({ yAxis: v, lineStyle: { width: 0.55 } }); });
  periodMinor.forEach(function (v) { gridLines.push({ xAxis: v, lineStyle: { width: 0.55 } }); });
  p.ticks.forEach(function (v) { gridLines.push({ yAxis: v, lineStyle: { width: 1.1 } }); });
  periodTicks.forEach(function (v) { gridLines.push({ xAxis: v, lineStyle: { width: 1.1 } }); });
  series.push({
    type: 'line', xAxisIndex: k, yAxisIndex: k, data: [], z: 1, silent: true,
    markLine: {
      silent: true, symbol: ['none', 'none'], animation: false,
      label: { show: false },
      lineStyle: { color: '#ffffff', type: 'solid' },
      emphasis: { disabled: true },
      data: gridLines
    }
  });

  models.forEach(function (name, i) {
    series.push({
      type: 'line', name: name, xAxisIndex: k, yAxisIndex: k,
      data: p.period.map(function (x, j) { return [x, p.values[i][j]]; }),
      showSymbol: false, symbol: 'none', color: modelColors[i],
      lineStyle: { width: 1 }, emphasis: { disabled: true }, z: 2
    });
  });

  var keyLeft = p.left + p.width + 15.6;
  var keyTop = p.top + 6.7 - keyStep / 2;

  // grey key column behind the legend lines
  graphics.push({
    type: 'rect', z: -1, silent: true,
    shape: { x: keyLeft, y: keyTop, width: 18, height: keyStep * models.length },
    style: { fill: '#f2f2f2' }
  });

  legends.push({
    data: models, orient: 'vertical',
    left: keyLeft + 2, top: keyTop, padding: 0,
    icon: 'rect', itemWidth: 14, itemHeight: 1.5, itemGap: 0,
    itemStyle: { borderWidth: 0 },
    textStyle: { fontSize: 9.3, lineHeight: keyStep, color: '#1a1a1a', fontFamily: sans, padding: [0, 0, 0, 3] }
  });

  graphics.push({
    type: 'text', x: p.left - 96.2, y: p.top + 320,
    style: { text: '[!ht]', fontSize: 24, fontFamily: serif, fill: '#000', verticalAlign: 'middle' }
  });
  graphics.push({
    type: 'text', x: p.left + 175.3, y: p.top + 367.5,
    style: {
      text: '{b|' + p.tag + '}{n|  ' + p.caption + '}',
      fontSize: 24, fontFamily: serif, fill: '#000', align: 'center', verticalAlign: 'middle',
      rich: {
        b: { fontSize: 24, fontFamily: serif, fontWeight: 'bold', fill: '#000' },
        n: { fontSize: 24, fontFamily: serif, fill: '#000' }
      }
    }
  });
});

var chart = echarts.init(document.getElementById('chart'), null, { renderer: 'canvas' });
chart.setOption({
  animation: false,
  backgroundColor: '#ffffff',
  grid: grids,
  xAxis: xAxes,
  yAxis: yAxes,
  legend: legends,
  series: series,
  graphic: graphics
});
</script>
</body>
</html>
